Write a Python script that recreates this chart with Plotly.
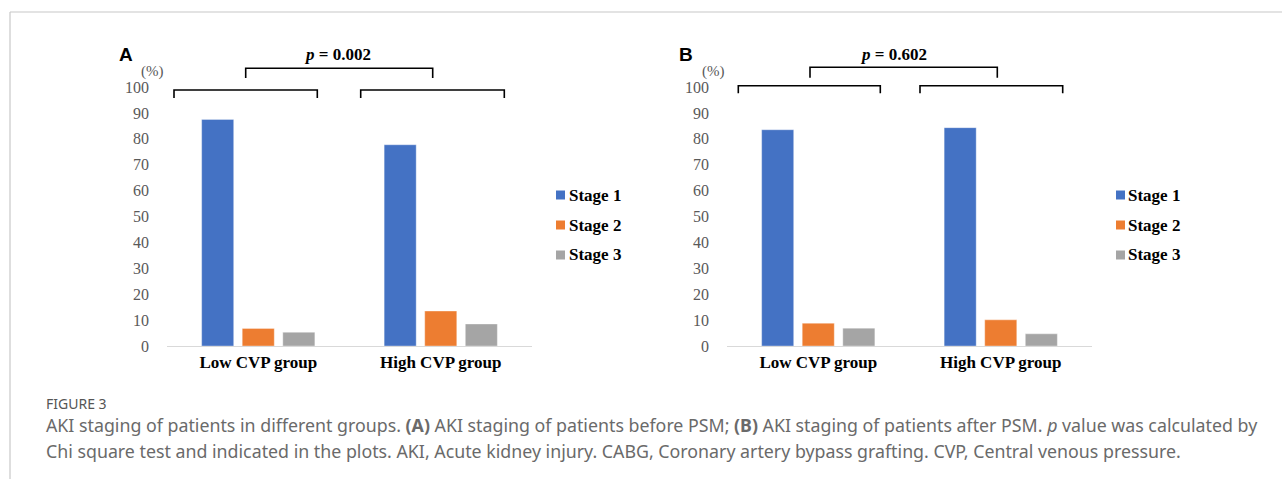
import plotly.graph_objects as go

W, H = 1282, 479

groups = ["Low CVP group", "High CVP group"]
stages = ["Stage 1", "Stage 2", "Stage 3"]
colors = ["#4472C4", "#ED7D31", "#A5A5A5"]

# panel A (before PSM)
a_stage1 = [87.5, 77.7]
a_stage2 = [6.8, 13.5]
a_stage3 = [5.3, 8.5]
# panel B (after PSM)
b_stage1 = [83.5, 84.3]
b_stage2 = [8.8, 10.1]
b_stage3 = [6.9, 4.7]

p_texts = ["<i>p</i> = 0.002", "<i>p</i> = 0.602"]
panel_labels = ["A", "B"]
y_ticks = [0, 10, 20, 30, 40, 50, 60, 70, 80, 90, 100]

caption_title = "FIGURE 3"
caption_line1 = ("AKI staging of patients in different groups. <b>(A)</b> AKI staging of patients before PSM; "
                 "<b>(B)</b> AKI staging of patients after PSM. <i>p</i> value was calculated by")
caption_line2 = ("Chi square test and indicated in the plots. AKI, Acute kidney injury. CABG, Coronary artery "
                 "bypass grafting. CVP, Central venous pressure.")


def X(px):
    return px / W


def Y(py):
    return 1 - py / H


fig = go.Figure()
panels = [(a_stage1, a_stage2, a_stage3), (b_stage1, b_stage2, b_stage3)]
for pi, series in enumerate(panels):
    xa = "x" if pi == 0 else "x2"
    ya = "y" if pi == 0 else "y2"
    for si, vals in enumerate(series):
        fig.add_trace(go.Bar(
            x=groups, y=vals, name=stages[si], xaxis=xa, yaxis=ya,
            marker=dict(color=colors[si], line=dict(width=0.6, color="rgba(255,255,255,0.6)")),
            showlegend=False,
        ))

serif = "Liberation Serif"
axis_common_x = dict(
    showline=True, linecolor="#D9D9D9", linewidth=1.3, ticks="", showgrid=False, automargin=False,
    tickfont=dict(family=serif, size=17, color="#000000", weight="bold"),
    fixedrange=True,
)
axis_common_y = dict(
    range=[0, 100], tickvals=y_ticks, showline=False, showgrid=False, zeroline=False, ticks="",
    automargin=False,
    tickfont=dict(family=serif, size=16, color="#595959"), ticklabelstandoff=17,
)

fig.update_layout(
    template="none",
    width=W, height=H, margin=dict(l=0, r=0, t=0, b=0, autoexpand=False),
    paper_bgcolor="white", plot_bgcolor="white",
    barmode="group", bargap=0.333, bargroupgap=0.21,
    xaxis=dict(domain=[X(167), X(532)], anchor="y", **axis_common_x),
    xaxis2=dict(domain=[X(727), X(1092)], anchor="y2", **axis_common_x),
    yaxis=dict(domain=[Y(346), Y(87)], anchor="x", **axis_common_y),
    yaxis2=dict(domain=[Y(346), Y(87)], anchor="x2", **axis_common_y),
    showlegend=False,
)

shapes = []
annotations = []

# frame lines
shapes.append(dict(type="line", xref="paper", yref="paper", x0=X(10), x1=1, y0=Y(12), y1=Y(12),
                   line=dict(color="#C8C8C8", width=1.2)))
shapes.append(dict(type="line", xref="paper", yref="paper", x0=X(10), x1=X(10), y0=Y(12), y1=0,
                   line=dict(color="#C8C8C8", width=1.2)))

panel_geo = [
    dict(label_x=126, pct_x=152, p_x=337, top=(245.7, 432.7, 68.3, 78), low=[(174, 317.3), (360.7, 504.3)],
         low_y=(90, 98), leg_sq=556, leg_tx=567),
    dict(label_x=686, pct_x=713, p_x=893, top=(810, 997.3, 67.3, 77.7), low=[(738.3, 880.3), (920, 1062.7)],
         low_y=(85.7, 93.3), leg_sq=1116, leg_tx=1126),
]


def bracket(x0, x1, yh, yt):
    path = f"M {X(x0)},{Y(yt)} L {X(x0)},{Y(yh)} L {X(x1)},{Y(yh)} L {X(x1)},{Y(yt)}"
    return dict(type="path", xref="paper", yref="paper", path=path,
                line=dict(color="#000000", width=1.6))


for pi, g in enumerate(panel_geo):
    annotations.append(dict(text=f"<b>{panel_labels[pi]}</b>", x=X(g["label_x"]), y=Y(55), xref="paper",
                            yref="paper", showarrow=False, xanchor="center", yanchor="middle",
                            font=dict(family="Liberation Sans", size=19, color="#000000")))
    annotations.append(dict(text="(%)", x=X(g["pct_x"]), y=Y(71), xref="paper", yref="paper",
                            showarrow=False, xanchor="center", yanchor="middle",
                            font=dict(family=serif, size=15, color="#595959")))
    annotations.append(dict(text=f"<b>{p_texts[pi]}</b>", x=X(g["p_x"]), y=Y(55), xref="paper",
                            yref="paper", showarrow=False, xanchor="center", yanchor="middle",
                            font=dict(family=serif, size=17, color="#000000")))
    tx0, tx1, tyh, tyt = g["top"]
    shapes.append(bracket(tx0, tx1, tyh, tyt))
    for (lx0, lx1) in g["low"]:
        shapes.append(bracket(lx0, lx1, g["low_y"][0], g["low_y"][1]))
    for si, st in enumerate(stages):
        cy = 195 + 30 * si
        shapes.append(dict(type="rect", xref="paper", yref="paper", x0=X(g["leg_sq"]), x1=X(g["leg_sq"] + 9),
                           y0=Y(cy + 4.5), y1=Y(cy - 4.5), fillcolor=colors[si], line=dict(width=0)))
        annotations.append(dict(text=f"<b>{st}</b>", x=X(g["leg_tx"]), y=Y(cy), xref="paper", yref="paper",
                                showarrow=False, xanchor="left", yanchor="middle",
                                font=dict(family=serif, size=17, color="#000000")))

# caption
annotations.append(dict(text=caption_title, x=X(44), y=Y(403), xref="paper", yref="paper", showarrow=False,
                        xanchor="left", yanchor="middle",
                        font=dict(family="Noto Sans", size=14, color="#555555")))
for li, line in enumerate([caption_line1, caption_line2]):
    annotations.append(dict(text=line, x=X(44), y=Y(425 + 26 * li), xref="paper", yref="paper",
                            showarrow=False, xanchor="left", yanchor="middle",
                            font=dict(family="Noto Sans", size=17.8, color="#6a6a6a")))

fig.update_layout(shapes=shapes, annotations=annotations)
fig.write_html("out.html")
